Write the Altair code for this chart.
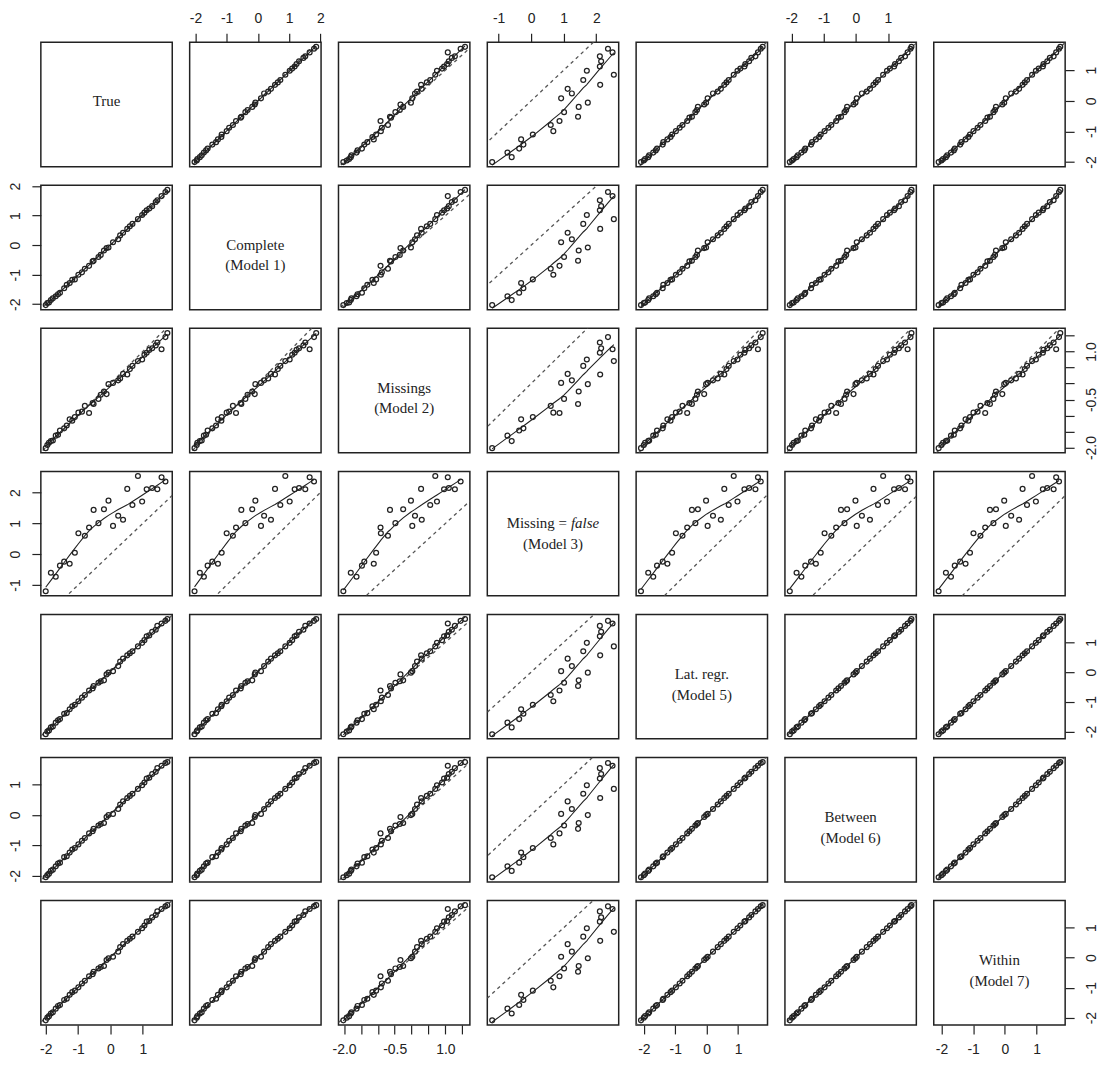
import altair as alt
import pandas as pd

# ---- data (one row per unit; None = not available) ----
true_v = [-2.00, -1.95, -1.90, -1.84, -1.78, -1.69, -1.62, -1.56, -1.43, -1.35,
          -1.26, -1.18, -1.10, -0.99, -0.88, -0.79, -0.66, -0.55, -0.52, -0.37,
          -0.30, -0.20, -0.12, -0.06, 0.08, 0.24, 0.30, 0.39, 0.52, 0.60,
          0.68, 0.85, 0.98, 1.05, 1.12, 1.20, 1.29, 1.40, 1.45, 1.58,
          1.70, 1.76]
complete_v = [-2.03, -1.96, -1.94, -1.86, -1.80, -1.73, -1.66, -1.61, -1.46, -1.34,
              -1.28, -1.17, -1.16, -1.00, -0.92, -0.80, -0.70, -0.55, -0.53, -0.40,
              -0.33, -0.18, -0.10, -0.08, 0.10, 0.20, 0.33, 0.42, 0.55, 0.64,
              0.72, 0.88, 1.02, 1.10, 1.18, 1.24, 1.32, 1.46, 1.52, 1.66,
              1.80, 1.87]
missings_v = [-2.02, -1.92, -1.85, -1.80, -1.78, -1.63, -1.60, -1.47, -1.40, -1.31,
              -1.12, -1.16, -1.05, -0.91, -0.88, -0.70, -0.92, -0.61, -0.64, -0.48,
              -0.35, -0.25, -0.33, -0.02, 0.02, 0.10, 0.16, 0.30, 0.28, 0.45,
              0.55, 0.70, 0.75, 0.90, 0.96, 1.05, 1.10, 1.19, 1.28, 1.07,
              1.45, 1.58]
missfalse_v = [-1.20, None, None, -0.60, None, -0.73, None, -0.37, -0.24, None,
               -0.31, None, 0.05, 0.68, None, 0.60, 0.87, None, 1.44, 1.01,
               None, 1.46, None, 1.74, 0.92, 1.25, None, 1.12, 2.12, None,
               1.60, 2.54, 1.71, None, 2.11, None, 2.15, None, 2.11, 2.50,
               2.36, None]
latregr_v = [-2.09, -2.00, -1.96, -1.86, -1.83, -1.70, -1.62, -1.58, -1.40, -1.38,
             -1.25, -1.15, -1.10, -0.98, -0.86, -0.77, -0.62, -0.55, -0.47, -0.36,
             -0.31, -0.28, -0.08, -0.02, 0.03, 0.20, 0.35, 0.45, 0.56, 0.63,
             0.70, 0.86, 0.98, 1.07, 1.20, 1.23, 1.35, 1.42, 1.55, 1.63,
             1.72, 1.78]
between_v = [-2.05, -1.98, -1.93, -1.84, -1.80, -1.69, -1.60, -1.57, -1.39, -1.36,
             -1.24, -1.14, -1.09, -0.97, -0.85, -0.76, -0.61, -0.54, -0.46, -0.35,
             -0.30, -0.27, -0.07, -0.01, 0.03, 0.19, 0.34, 0.44, 0.55, 0.62,
             0.69, 0.85, 0.97, 1.06, 1.19, 1.22, 1.34, 1.41, 1.53, 1.61,
             1.70, 1.73]
within_v = [-2.09, -2.00, -1.95, -1.86, -1.82, -1.70, -1.61, -1.58, -1.41, -1.37,
            -1.24, -1.15, -1.10, -0.99, -0.86, -0.77, -0.62, -0.55, -0.47, -0.36,
            -0.31, -0.28, -0.08, -0.02, 0.03, 0.20, 0.35, 0.45, 0.56, 0.63,
            0.70, 0.86, 0.98, 1.07, 1.20, 1.22, 1.34, 1.42, 1.54, 1.62,
            1.71, 1.75]

fields = ["T", "C", "M2", "M3", "M5", "M6", "M7"]
df = pd.DataFrame({
    "T": true_v, "C": complete_v, "M2": missings_v, "M3": missfalse_v,
    "M5": latregr_v, "M6": between_v, "M7": within_v,
})

tick_vals = {
    "T": [-2, -1, 0, 1],
    "C": [-2, -1, 0, 1, 2],
    "M2": [-2.0, -1.5, -1.0, -0.5, 0.0, 0.5, 1.0, 1.5],
    "M3": [-1, 0, 1, 2],
    "M5": [-2, -1, 0, 1],
    "M6": [-2, -1, 0, 1],
    "M7": [-2, -1, 0, 1],
}
M2_EXPR = ("datum.value == -2 ? '-2.0' : datum.value == -0.5 ? '-0.5' : "
           "datum.value == 1 ? '1.0' : ''")

diag_lines = {
    "T": ["True"],
    "C": ["Complete", "(Model 1)"],
    "M2": ["Missings", "(Model 2)"],
    "M5": ["Lat. regr.", "(Model 5)"],
    "M6": ["Between", "(Model 6)"],
    "M7": ["Within", "(Model 7)"],
}

W, H = 132, 125
INK = "#222222"


def domain(f):
    s = df[f].dropna()
    lo, hi = float(s.min()), float(s.max())
    r = hi - lo
    return [lo - 0.04 * r, hi + 0.04 * r]


doms = {f: domain(f) for f in fields}


def make_axis(f, orient):
    pad = {"top": 8, "bottom": 9, "left": 9, "right": 24}[orient]
    if orient in ("left", "right"):
        extra = dict(labelAngle=270, labelAlign="center", labelBaseline="bottom")
    else:
        extra = dict(labelAngle=0, labelAlign="center")
    return alt.Axis(
        orient=orient, values=tick_vals[f],
        labelExpr=M2_EXPR if f == "M2" else "'' + datum.value",
        title=None, grid=False, domain=False, ticks=True, tickSize=9,
        tickColor=INK, tickWidth=1.2, labelFont="Liberation Sans",
        labelFontSize=14, labelColor=INK, labelPadding=pad,
        labelOverlap=False, labelFlush=False, **extra,
    )


def axes_for(i, j):
    xax = None
    yax = None
    if i == 0 and j % 2 == 1:
        xax = make_axis(fields[j], "top")
    if i == 6 and j % 2 == 0:
        xax = make_axis(fields[j], "bottom")
    if j == 0 and i % 2 == 1:
        yax = make_axis(fields[i], "left")
    if j == 6 and i % 2 == 0:
        yax = make_axis(fields[i], "right")
    return xax, yax


txt_df = pd.DataFrame({"k": [0]})
panels = []
for i in range(7):
    for j in range(7):
        xf, yf = fields[j], fields[i]
        xax, yax = axes_for(i, j)
        xs = alt.Scale(domain=doms[xf], nice=False, zero=False)
        ys = alt.Scale(domain=doms[yf], nice=False, zero=False)

        def X(field):
            return alt.X(field, type="quantitative", scale=xs, axis=xax)

        def Y(field):
            return alt.Y(field, type="quantitative", scale=ys, axis=yax)

        if i == j:
            inv = alt.Chart(df).mark_point(opacity=0).encode(x=X(xf), y=Y(yf))
            layers = [inv]
            if xf == "M3":
                common = dict(font="Liberation Serif", fontSize=15, color=INK,
                              baseline="middle")
                layers.append(alt.Chart(txt_df).mark_text(
                    text="Missing =", align="right", **common).encode(
                    x=alt.value(80), y=alt.value(H / 2 - 10.5)))
                layers.append(alt.Chart(txt_df).mark_text(
                    text="false", align="left", fontStyle="italic", **common).encode(
                    x=alt.value(84), y=alt.value(H / 2 - 10.5)))
                layers.append(alt.Chart(txt_df).mark_text(
                    text="(Model 3)", align="center", **common).encode(
                    x=alt.value(W / 2), y=alt.value(H / 2 + 10.5)))
            else:
                layers.append(alt.Chart(txt_df).mark_text(
                    text=diag_lines[xf], align="center", baseline="middle",
                    font="Liberation Serif", fontSize=15, lineHeight=21,
                    color=INK).encode(x=alt.value(W / 2), y=alt.value(H / 2 - 3)))
            panel = alt.layer(*layers).properties(width=W, height=H)
        else:
            flt = f"isValid(datum['{xf}']) && isValid(datum['{yf}'])"
            base = alt.Chart(df).transform_filter(flt)
            lo = min(doms[xf][0], doms[yf][0]) - 1
            hi = max(doms[xf][1], doms[yf][1]) + 1
            ident_df = pd.DataFrame({"a": [lo], "b": [hi]})
            ident = alt.Chart(ident_df).mark_rule(
                strokeDash=[3.5, 3.5], color="#555555", strokeWidth=1.3, clip=True
            ).encode(x=X("a"), y=Y("a"), x2="b:Q", y2="b:Q")
            smooth = base.transform_loess(xf, yf, bandwidth=0.67).mark_line(
                color=INK, strokeWidth=1.1, clip=True
            ).encode(x=X(xf), y=Y(yf))
            pts = base.mark_point(filled=False, size=24, color=INK,
                                  strokeWidth=1.25, opacity=1).encode(
                x=X(xf), y=Y(yf))
            panel = alt.layer(ident, smooth, pts).properties(width=W, height=H)
        panels.append(panel)

chart = alt.ConcatChart(
    concat=panels, columns=7, spacing={"row": 18.7, "column": 17.5},
    bounds="flush",
).configure_view(stroke=INK, strokeWidth=1.5).properties(
    padding={"left": 0, "top": 0, "right": 0, "bottom": 0}
)

chart.save("out.html", embed_options={"renderer": "svg", "actions": False})
